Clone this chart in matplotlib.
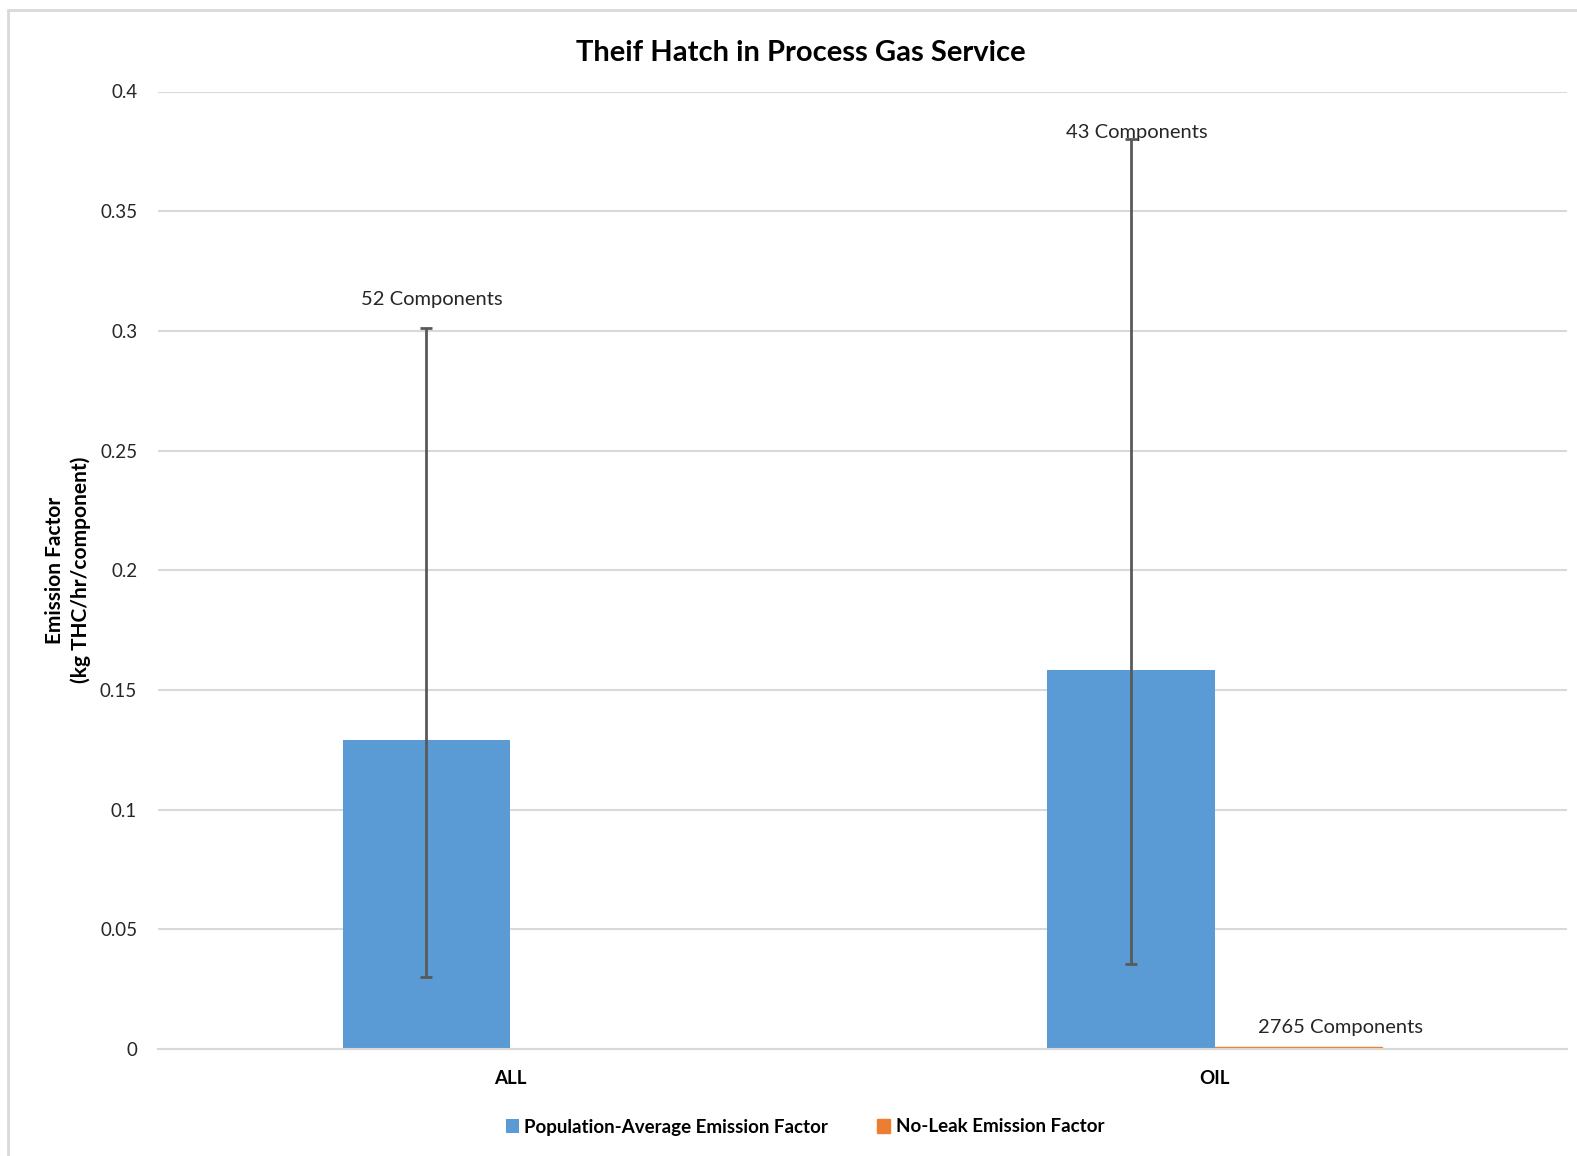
import numpy as np
import matplotlib.pyplot as plt
from matplotlib.patches import Rectangle

plt.rcParams['font.family'] = ['Lato', 'DejaVu Sans']

# Дані
categories = ['ALL', 'OIL']
pop_avg = [0.129, 0.1585]
err_low = [0.030, 0.0357]
err_high = [0.301, 0.380]
no_leak = [0.0, 0.0008]
pop_labels = ['52 Components', '43 Components']
noleak_labels = ['', '2765 Components']

blue = '#5b9bd5'
orange = '#ed7d31'

W, H = 1577, 1156
fig = plt.figure(figsize=(W / 100, H / 100), dpi=100)
ax = fig.add_axes([158 / W, 1 - 1049 / H, 1409 / W, 957.5 / H])

# Рамка навколо діаграми
fig.patches.append(Rectangle((8 / W, -0.1), 1.2, 1 - 10 / H + 0.1,
                             transform=fig.transFigure, fill=False,
                             edgecolor='#d9d9d9', linewidth=2))

x = np.arange(len(categories))
w = 0.238
pop_avg = np.array(pop_avg)
yerr = [pop_avg - np.array(err_low), np.array(err_high) - pop_avg]

ax.bar(x - w / 2, pop_avg, w, color=blue, label='Population-Average Emission Factor', zorder=2)
ax.bar(x + w / 2, no_leak, w, color=orange, label='No-Leak Emission Factor', zorder=2,
       edgecolor=orange, linewidth=1)
ax.errorbar(x - w / 2, pop_avg, yerr=yerr, fmt='none', ecolor='#595959',
            elinewidth=2, capsize=4, capthick=2, zorder=3)

# Підписи кількості компонентів
label_dy = [0.0085, -0.0005]
for i in range(len(categories)):
    ax.text(x[i] - w / 2 + 0.008, err_high[i] + label_dy[i], pop_labels[i],
            ha='center', va='bottom', fontsize=14.5, color='#262626')
    if noleak_labels[i]:
        ax.text(x[i] + w / 2 + 0.06, no_leak[i] + 0.0045, noleak_labels[i],
                ha='center', va='bottom', fontsize=14.5, color='#262626')

ax.set_xlim(-0.5, 1.5)
ax.set_ylim(0, 0.4)
ax.set_yticks(np.arange(0, 0.401, 0.05))
ax.set_yticklabels(['0', '0.05', '0.1', '0.15', '0.2', '0.25', '0.3', '0.35', '0.4'])
ax.set_xticks(x)
ax.set_xticklabels(categories, fontweight='bold')
ax.tick_params(axis='y', length=0, pad=15, labelsize=13.5, labelcolor='#262626')
ax.tick_params(axis='x', length=0, pad=15, labelsize=13.5)
ax.grid(axis='y', color='#d9d9d9', linewidth=1.5, zorder=0)
ax.set_axisbelow(True)
for s in ['top', 'right', 'left']:
    ax.spines[s].set_visible(False)
ax.spines['bottom'].set_color('#d9d9d9')
ax.spines['bottom'].set_linewidth(1.5)

fig.text(801 / W, 1 - 53 / H, 'Theif Hatch in Process Gas Service', ha='center', va='center',
         fontsize=21, fontweight='bold')
fig.text(68 / W, 1 - 570 / H, 'Emission Factor\n(kg THC/hr/component)', rotation=90,
         ha='center', va='center', fontsize=15, fontweight='bold', linespacing=1.3)

fig.legend(loc='center', bbox_to_anchor=(805 / W, 1 - 1127 / H), ncol=2, frameon=False,
           prop={'weight': 'bold', 'size': 13.5}, handlelength=0.7, handleheight=0.7,
           columnspacing=2.6, handletextpad=0.3)

fig.savefig('out.png', dpi=100)
